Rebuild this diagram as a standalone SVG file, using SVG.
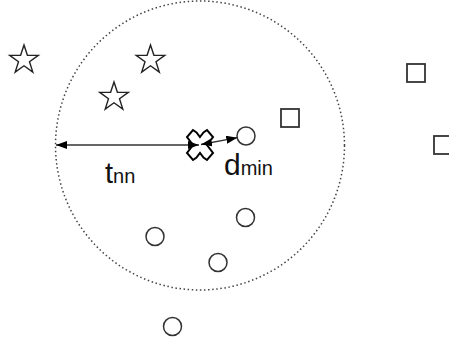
<svg xmlns="http://www.w3.org/2000/svg" width="449" height="343" viewBox="0 0 449 343">
<style>
.star{fill:#fff;stroke:#222;stroke-width:1.4;stroke-linejoin:miter}
.pt{fill:none;stroke:#333;stroke-width:1.5}
.sq{fill:none;stroke:#333;stroke-width:1.8}
.ln{stroke:#333;stroke-width:1.3;fill:none}
.lbl{font-family:"Liberation Sans",Arial,sans-serif;fill:#111}
</style>
<defs>
<marker id="ah" viewBox="0 0 11 8" refX="11" refY="4" markerWidth="11" markerHeight="8" markerUnits="userSpaceOnUse" orient="auto-start-reverse">
<path d="M0,0 L11,4 L0,8 z" fill="#000"/>
</marker>
<polygon id="starShape" points="0,-15 3.4,-4.7 14.3,-4.6 5.5,1.8 8.8,12.1 0,5.8 -8.8,12.1 -5.5,1.8 -14.3,-4.6 -3.4,-4.7"/>
</defs>
<rect width="449" height="343" fill="#fff"/>
<g id="radius">
<circle cx="200" cy="145.5" r="144.5" fill="none" stroke="#444" stroke-width="1.5" stroke-dasharray="1.5 2.6"/>
</g>
<g id="star1"><use href="#starShape" class="star" x="24" y="60"/></g>
<g id="star2"><use href="#starShape" class="star" x="150.5" y="60"/></g>
<g id="star3"><use href="#starShape" class="star" x="114" y="97"/></g>
<g id="square1"><rect class="sq" x="281" y="109" width="18" height="18"/></g>
<g id="square2"><rect class="sq" x="407" y="64" width="18" height="18"/></g>
<g id="square3"><rect class="sq" x="434" y="136" width="18" height="18"/></g>
<g id="circle1"><circle class="pt" cx="246" cy="136" r="9"/></g>
<g id="circle2"><circle class="pt" cx="245.5" cy="217.5" r="9"/></g>
<g id="circle3"><circle class="pt" cx="155" cy="236.5" r="9"/></g>
<g id="circle4"><circle class="pt" cx="218" cy="262.5" r="9"/></g>
<g id="circle5"><circle class="pt" cx="172.5" cy="326.5" r="9"/></g>
<g id="query">
<polygon points="200,137 203.5,132.5 207,130 213,137 207,145 213,153 207,160 203.5,157.5 200,153 196.5,157.5 193,160 187,153 193,145 187,137 193,130 196.5,132.5" fill="#fff" stroke="#000" stroke-width="2" stroke-linejoin="miter"/>
</g>
<g id="connectors">
<line class="ln" x1="56" y1="145" x2="199" y2="145" marker-start="url(#ah)" marker-end="url(#ah)"/>
<line class="ln" x1="201" y1="144.5" x2="237.3" y2="137.7" marker-start="url(#ah)" marker-end="url(#ah)"/>
</g>
<g id="labels">
<text class="lbl" x="105" y="183" font-size="29">t<tspan font-size="20">nn</tspan></text>
<text class="lbl" x="224" y="175" font-size="30">d<tspan font-size="20">min</tspan></text>
</g>
</svg>
